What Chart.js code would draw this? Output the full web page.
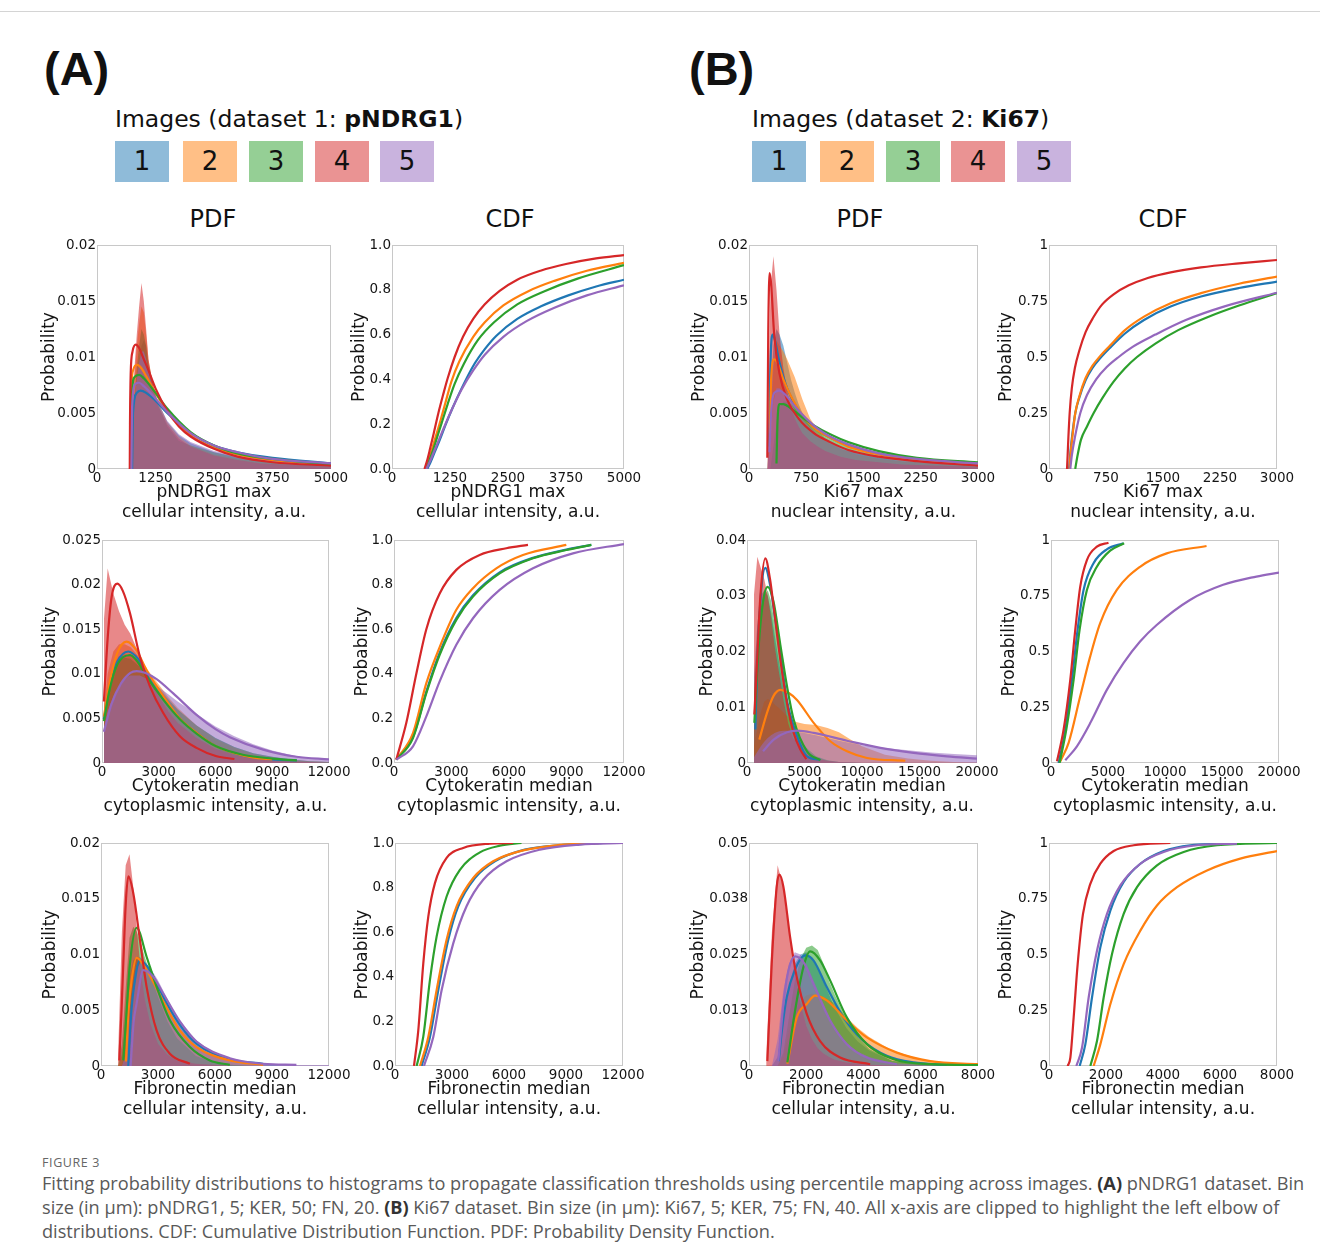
<!DOCTYPE html>
<html>
<head>
<meta charset="utf-8">
<script src="https://cdn.jsdelivr.net/npm/chart.js@4.4.1/dist/chart.umd.min.js"></script>
<style>
  body { margin: 0; background: #fff; }
  #page { position: relative; width: 1320px; height: 1258px; overflow: hidden; background: #fff;
          font-family: 'DejaVu Sans', sans-serif; color: #111; }
  .abs { position: absolute; white-space: nowrap; }
  .big { font-family: 'Liberation Sans', Arial, sans-serif; font-weight: bold; font-size: 47px; line-height: 47px; }
  .ds { font-size: 23.5px; line-height: 23.5px; }
  .sw { width: 54px; height: 41px; line-height: 41px; text-align: center; font-size: 26px; }
  .ttl { width: 200px; text-align: center; font-size: 24px; line-height: 24px; }
  .cap { font-family: 'Open Sans', sans-serif; color: #595959; font-size: 16px; line-height: 24px; }
  .cap b { color: #333; }
  #figlab { font-family: 'Open Sans', sans-serif; color: #666; font-size: 12.5px; line-height: 16px; letter-spacing: 0.6px; }
</style>
</head>
<body>
<div id="page">
  <div class="abs" style="left:0;top:11px;width:1320px;height:1px;background:#d4d4d4"></div>
  <div class="abs big" style="left:44px;top:45px">(A)</div>
  <div class="abs big" style="left:689px;top:45px">(B)</div>
  <div class="abs ds" style="left:115px;top:108px">Images (dataset 1: <b>pNDRG1</b>)</div>
  <div class="abs ds" style="left:752px;top:108px">Images (dataset 2: <b>Ki67</b>)</div>
  <div class="abs" id="figlab" style="left:42px;top:1155px">FIGURE 3</div>
  <div class="abs cap" id="cap1" style="left:42px;top:1171px">Fitting probability distributions to histograms to propagate classification thresholds using percentile mapping across images. <b>(A)</b> pNDRG1 dataset. Bin</div>
  <div class="abs cap" style="left:42px;top:1195px">size (in μm): pNDRG1, 5; KER, 50; FN, 20. <b>(B)</b> Ki67 dataset. Bin size (in μm): Ki67, 5; KER, 75; FN, 40. All x-axis are clipped to highlight the left elbow of</div>
  <div class="abs cap" style="left:42px;top:1219px">distributions. CDF: Cumulative Distribution Function. PDF: Probability Density Function.</div>
</div>
<script>
// image order: 1 blue, 2 orange, 3 green, 4 red, 5 purple
const seriesNames = ['1', '2', '3', '4', '5'];
const seriesColors = ['#1f77b4', '#ff7f0e', '#2ca02c', '#d62728', '#9467bd'];

// tick values and labels
const a1XTicks = [0, 1250, 2500, 3750, 5000];
const b1XTicks = [0, 750, 1500, 2250, 3000];
const a23XTicks = [0, 3000, 6000, 9000, 12000];
const b2XTicks = [0, 5000, 10000, 15000, 20000];
const b3XTicks = [0, 2000, 4000, 6000, 8000];
const pdf02Ticks = [0, 0.005, 0.01, 0.015, 0.02];
const pdf02Labels = ['0', '0.005', '0.01', '0.015', '0.02'];
const pdf025Ticks = [0, 0.005, 0.01, 0.015, 0.02, 0.025];
const pdf025Labels = ['0', '0.005', '0.01', '0.015', '0.02', '0.025'];
const pdf04Ticks = [0, 0.01, 0.02, 0.03, 0.04];
const pdf04Labels = ['0', '0.01', '0.02', '0.03', '0.04'];
const pdf05Ticks = [0, 0.0125, 0.025, 0.0375, 0.05];
const pdf05Labels = ['0', '0.013', '0.025', '0.038', '0.05'];
const cdfATicks = [0, 0.2, 0.4, 0.6, 0.8, 1];
const cdfALabels = ['0.0', '0.2', '0.4', '0.6', '0.8', '1.0'];
const cdfBTicks = [0, 0.25, 0.5, 0.75, 1];
const cdfBLabels = ['0', '0.25', '0.5', '0.75', '1'];

// ---- row 1: pNDRG1 max / Ki67 max
const a1HistX = [700, 760, 800, 850, 900, 950, 1000, 1050, 1100, 1200, 1300, 1500, 1750, 2000, 2500, 3000, 3500, 4000, 4500, 5000];
const a1Hist = [
  [0, 0.003, 0.006, 0.008, 0.0095, 0.011, 0.0115, 0.011, 0.0095, 0.0075, 0.006, 0.0042, 0.003, 0.0023, 0.0015, 0.0011, 0.0008, 0.0006, 0.0005, 0.0004],
  [0, 0.004, 0.008, 0.011, 0.013, 0.0145, 0.014, 0.012, 0.0098, 0.0075, 0.006, 0.0042, 0.0029, 0.0021, 0.0013, 0.0009, 0.0006, 0.0004, 0.0003, 0.0002],
  [0, 0.003, 0.006, 0.009, 0.011, 0.0125, 0.012, 0.011, 0.009, 0.0072, 0.0058, 0.0038, 0.0025, 0.0021, 0.0015, 0.001, 0.0007, 0.0005, 0.0004, 0.0003],
  [0, 0.005, 0.009, 0.012, 0.0145, 0.0166, 0.015, 0.0125, 0.0098, 0.0073, 0.0057, 0.004, 0.0027, 0.002, 0.0012, 0.0008, 0.0005, 0.0004, 0.0003, 0.0002],
  [0, 0.003, 0.006, 0.008, 0.0095, 0.0105, 0.0105, 0.0098, 0.0088, 0.0072, 0.006, 0.0043, 0.0031, 0.0024, 0.0016, 0.0012, 0.0009, 0.0007, 0.0005, 0.0004]
];
const a1Pdf = [
  [[750, 0], [770, 0.005], [850, 0.0068], [930, 0.007], [1050, 0.0068], [1250, 0.0061], [1500, 0.005], [2000, 0.0032], [2500, 0.0021], [3000, 0.0015], [3750, 0.001], [5000, 0.0005]],
  [[715, 0], [725, 0.006], [770, 0.0088], [860, 0.0093], [950, 0.009], [1050, 0.0083], [1250, 0.0068], [1500, 0.0052], [2000, 0.003], [2500, 0.0019], [3000, 0.0013], [3750, 0.0008], [5000, 0.0004]],
  [[725, 0], [740, 0.006], [800, 0.0082], [900, 0.0084], [1000, 0.0081], [1250, 0.0068], [1500, 0.0054], [2000, 0.0033], [2500, 0.0021], [3000, 0.0014], [3750, 0.0009], [5000, 0.0004]],
  [[700, 0], [705, 0.004], [720, 0.0085], [760, 0.0105], [830, 0.0111], [900, 0.0108], [1000, 0.0098], [1100, 0.0088], [1250, 0.0072], [1500, 0.0052], [1750, 0.0038], [2000, 0.0029], [2500, 0.0018], [3000, 0.0011], [3750, 0.0006], [5000, 0.0003]],
  [[735, 0], [750, 0.0055], [820, 0.0076], [900, 0.0077], [1000, 0.0074], [1250, 0.0063], [1500, 0.0051], [2000, 0.0032], [2500, 0.0021], [3000, 0.0015], [3750, 0.0009], [5000, 0.0005]]
];
const a1Cdf = [
  [[760, 0], [830, 0.03], [920, 0.075], [1030, 0.13], [1150, 0.195], [1300, 0.27], [1500, 0.36], [1750, 0.46], [2000, 0.535], [2250, 0.595], [2700, 0.67], [3200, 0.725], [3800, 0.775], [4400, 0.815], [5000, 0.845]],
  [[720, 0], [780, 0.035], [850, 0.08], [950, 0.15], [1050, 0.22], [1150, 0.295], [1280, 0.39], [1450, 0.48], [1750, 0.59], [2000, 0.655], [2400, 0.73], [2950, 0.795], [3500, 0.84], [4200, 0.885], [5000, 0.92]],
  [[730, 0], [790, 0.03], [870, 0.075], [970, 0.14], [1070, 0.205], [1200, 0.29], [1350, 0.38], [1550, 0.47], [1850, 0.575], [2200, 0.655], [2700, 0.735], [3300, 0.795], [4000, 0.85], [5000, 0.91]],
  [[700, 0], [760, 0.04], [820, 0.09], [900, 0.16], [1000, 0.25], [1100, 0.33], [1200, 0.405], [1350, 0.5], [1530, 0.59], [1750, 0.67], [2000, 0.735], [2320, 0.795], [2700, 0.845], [3200, 0.885], [3750, 0.915], [4400, 0.94], [5000, 0.955]],
  [[740, 0], [820, 0.035], [920, 0.085], [1030, 0.14], [1150, 0.2], [1300, 0.27], [1500, 0.355], [1750, 0.44], [2000, 0.51], [2400, 0.59], [2900, 0.66], [3500, 0.72], [4200, 0.775], [5000, 0.82]]
];
const b1HistX = [240, 280, 320, 360, 400, 450, 500, 550, 600, 650, 700, 800, 900, 1000, 1200, 1400, 1700, 2000, 2500, 3000];
const b1Hist = [
  [0, 0.006, 0.011, 0.0125, 0.012, 0.011, 0.0095, 0.008, 0.0068, 0.0058, 0.005, 0.0038, 0.003, 0.0025, 0.0018, 0.0014, 0.001, 0.0007, 0.0005, 0.0004],
  [0, 0.004, 0.009, 0.0115, 0.011, 0.0105, 0.0098, 0.009, 0.0082, 0.0072, 0.0062, 0.0045, 0.0035, 0.0027, 0.0018, 0.0013, 0.0009, 0.0007, 0.0005, 0.0004],
  [0, 0, 0.002, 0.004, 0.0055, 0.006, 0.006, 0.0058, 0.0055, 0.005, 0.0047, 0.0042, 0.0037, 0.0031, 0.0023, 0.0017, 0.0012, 0.0009, 0.0006, 0.0005],
  [0, 0.016, 0.019, 0.016, 0.012, 0.009, 0.007, 0.0055, 0.0045, 0.0038, 0.0032, 0.0025, 0.002, 0.0016, 0.0011, 0.0008, 0.0006, 0.0004, 0.0003, 0.0002],
  [0, 0.003, 0.006, 0.0072, 0.0072, 0.0068, 0.0063, 0.0058, 0.0053, 0.0048, 0.0044, 0.0037, 0.0031, 0.0027, 0.002, 0.0015, 0.0011, 0.0008, 0.0006, 0.0005]
];
const b1Pdf = [
  [[265, 0.002], [280, 0.009], [310, 0.012], [340, 0.0115], [400, 0.0095], [500, 0.0072], [650, 0.0052], [850, 0.0037], [1063, 0.0028], [1300, 0.0021], [1700, 0.0014], [2200, 0.0009], [3000, 0.0005]],
  [[272, 0.002], [290, 0.008], [330, 0.0098], [370, 0.0095], [450, 0.008], [550, 0.0065], [700, 0.0048], [850, 0.0037], [1063, 0.0028], [1300, 0.002], [1700, 0.0013], [2200, 0.0008], [3000, 0.0005]],
  [[360, 0.0005], [372, 0.004], [400, 0.0058], [450, 0.0058], [550, 0.0054], [700, 0.0046], [850, 0.0039], [1063, 0.0031], [1300, 0.0024], [1700, 0.0016], [2200, 0.001], [3000, 0.0006]],
  [[240, 0.001], [252, 0.012], [270, 0.0175], [290, 0.0165], [330, 0.012], [400, 0.0085], [500, 0.0062], [650, 0.0045], [850, 0.0032], [1063, 0.0024], [1300, 0.0017], [1700, 0.0011], [2200, 0.0007], [3000, 0.0003]],
  [[268, 0.0015], [290, 0.005], [330, 0.0068], [400, 0.007], [480, 0.0066], [600, 0.0056], [750, 0.0045], [900, 0.0036], [1063, 0.0029], [1300, 0.0022], [1700, 0.0014], [2200, 0.0009], [3000, 0.0005]]
];
const b1Cdf = [
  [[265, 0], [280, 0.07], [305, 0.15], [346, 0.25], [400, 0.32], [480, 0.395], [570, 0.45], [675, 0.495], [800, 0.54], [1000, 0.605], [1250, 0.665], [1600, 0.725], [2000, 0.77], [2500, 0.808], [3000, 0.837]],
  [[270, 0], [285, 0.07], [310, 0.15], [346, 0.25], [400, 0.325], [480, 0.405], [570, 0.46], [675, 0.505], [800, 0.55], [1000, 0.62], [1250, 0.68], [1600, 0.74], [2000, 0.785], [2500, 0.827], [3000, 0.859]],
  [[345, 0], [370, 0.05], [420, 0.13], [500, 0.19], [588, 0.25], [700, 0.315], [850, 0.39], [1000, 0.45], [1158, 0.5], [1400, 0.56], [1700, 0.62], [2100, 0.68], [2500, 0.73], [3000, 0.785]],
  [[237, 0], [245, 0.06], [255, 0.14], [272, 0.25], [300, 0.36], [340, 0.45], [400, 0.53], [480, 0.61], [580, 0.675], [700, 0.735], [850, 0.78], [1050, 0.82], [1300, 0.853], [1600, 0.878], [2000, 0.9], [2500, 0.918], [3000, 0.933]],
  [[280, 0], [300, 0.06], [340, 0.14], [412, 0.25], [500, 0.33], [620, 0.4], [760, 0.455], [917, 0.5], [1100, 0.545], [1400, 0.6], [1800, 0.665], [2300, 0.725], [3000, 0.787]]
];

// ---- row 2: Cytokeratin median
const a2HistX = [100, 300, 600, 900, 1200, 1500, 2000, 2500, 3000, 3500, 4000, 5000, 6000, 7000, 8000, 9000, 10000, 11000, 12000];
const a2Hist = [
  [0.005, 0.0085, 0.011, 0.012, 0.0122, 0.012, 0.011, 0.0098, 0.0085, 0.0072, 0.006, 0.0042, 0.0028, 0.0018, 0.0011, 0.0007, 0.0004, 0.0002, 0.0001],
  [0.006, 0.01, 0.0125, 0.0133, 0.0133, 0.013, 0.0118, 0.0102, 0.0088, 0.0074, 0.0062, 0.0042, 0.0027, 0.0017, 0.001, 0.0006, 0.0003, 0.0002, 0.0001],
  [0.005, 0.0082, 0.0105, 0.0115, 0.0118, 0.0117, 0.0108, 0.0096, 0.0083, 0.0071, 0.006, 0.0042, 0.0028, 0.0018, 0.0011, 0.0007, 0.0004, 0.0002, 0.0001],
  [0.016, 0.0218, 0.019, 0.017, 0.0155, 0.0145, 0.012, 0.0095, 0.0075, 0.0058, 0.0045, 0.0028, 0.0016, 0.0009, 0.0005, 0.0003, 0.0002, 0.0001, 0],
  [0.0035, 0.0058, 0.0075, 0.0087, 0.0095, 0.0098, 0.0098, 0.0093, 0.0085, 0.0077, 0.0069, 0.0055, 0.0041, 0.003, 0.0021, 0.0014, 0.0009, 0.0005, 0.0003]
];
const a2Pdf = [
  [[100, 0.0049], [400, 0.0085], [800, 0.0113], [1390, 0.0125], [1900, 0.0117], [2358, 0.0101], [3238, 0.0073], [4117, 0.005], [4997, 0.0034], [6000, 0.0019], [7500, 0.0008], [9000, 0.0004], [10300, 0.0003]],
  [[100, 0.0052], [400, 0.009], [800, 0.0123], [1302, 0.0136], [1800, 0.0127], [2358, 0.0104], [3238, 0.0075], [4117, 0.005], [4997, 0.0034], [6000, 0.0019], [7000, 0.0011], [8000, 0.0006], [9000, 0.0004]],
  [[100, 0.0047], [400, 0.0082], [800, 0.011], [1478, 0.0121], [1900, 0.0113], [2358, 0.0097], [3238, 0.0071], [4117, 0.0049], [4997, 0.0033], [6000, 0.0019], [7500, 0.0009], [9000, 0.0005], [10300, 0.0003]],
  [[100, 0.0069], [300, 0.014], [500, 0.0185], [809, 0.0201], [1100, 0.0193], [1478, 0.0168], [2006, 0.0119], [2534, 0.0086], [3238, 0.0056], [4117, 0.003], [4997, 0.0017], [6053, 0.00075], [7000, 0.00045]],
  [[100, 0.0035], [500, 0.0066], [1000, 0.0089], [1500, 0.0101], [1830, 0.0103], [2300, 0.0101], [2886, 0.0094], [3766, 0.0078], [4997, 0.0054], [6000, 0.0038], [6757, 0.0029], [8517, 0.0015], [10276, 0.0007], [12000, 0.0004]]
];
const a2Cdf = [
  [[120, 0.015], [991, 0.117], [1687, 0.32], [2383, 0.495], [3252, 0.65], [4122, 0.752], [5513, 0.855], [7252, 0.92], [8991, 0.957], [10296, 0.978]],
  [[120, 0.015], [991, 0.134], [1687, 0.358], [2383, 0.52], [3252, 0.687], [4122, 0.784], [5339, 0.873], [6730, 0.933], [8991, 0.978]],
  [[120, 0.015], [991, 0.112], [1687, 0.313], [2383, 0.485], [3252, 0.642], [4122, 0.746], [5513, 0.85], [7252, 0.918], [8991, 0.955], [10296, 0.978]],
  [[120, 0.015], [643, 0.18], [1165, 0.4], [1687, 0.6], [2383, 0.76], [3252, 0.866], [4470, 0.933], [5861, 0.963], [6991, 0.978]],
  [[120, 0.015], [991, 0.075], [1687, 0.209], [2383, 0.366], [3252, 0.53], [4122, 0.649], [5513, 0.776], [7252, 0.873], [9339, 0.94], [12000, 0.982]]
];
const b2HistX = [600, 900, 1200, 1500, 1800, 2100, 2400, 2800, 3200, 3600, 4000, 5000, 6000, 7000, 8000, 9000, 10000, 12000, 14000, 16000, 18000, 20000];
const b2Hist = [
  [0.015, 0.025, 0.03, 0.031, 0.03, 0.027, 0.023, 0.018, 0.013, 0.009, 0.006, 0.0025, 0.001, 0.0004, 0.0002, 0.0001, 0, 0, 0, 0, 0, 0],
  [0.003, 0.006, 0.009, 0.011, 0.0115, 0.0112, 0.0105, 0.0098, 0.009, 0.0082, 0.0075, 0.007, 0.0068, 0.0063, 0.0055, 0.0042, 0.003, 0.0015, 0.0008, 0.0004, 0.0002, 0.0001],
  [0.012, 0.022, 0.028, 0.03, 0.031, 0.029, 0.025, 0.02, 0.015, 0.01, 0.007, 0.003, 0.0012, 0.0005, 0.0002, 0.0001, 0, 0, 0, 0, 0, 0],
  [0.03, 0.037, 0.035, 0.033, 0.03, 0.026, 0.021, 0.016, 0.011, 0.007, 0.0045, 0.0018, 0.0008, 0.0004, 0.0002, 0.0001, 0, 0, 0, 0, 0, 0],
  [0.001, 0.002, 0.003, 0.0038, 0.0045, 0.005, 0.0054, 0.0057, 0.0058, 0.0058, 0.0057, 0.0054, 0.005, 0.0045, 0.004, 0.0036, 0.0032, 0.0027, 0.0023, 0.0019, 0.0016, 0.0014]
];
const b2Pdf = [
  [[725, 0.006], [900, 0.018], [1200, 0.03], [1594, 0.035], [2000, 0.032], [2500, 0.025], [2899, 0.0197], [3500, 0.011], [4058, 0.0066], [5217, 0.0012], [6377, 0.0006]],
  [[1072, 0.0042], [1739, 0.009], [2300, 0.012], [2899, 0.0131], [3600, 0.0126], [4348, 0.0113], [5797, 0.0072], [7246, 0.0039], [8696, 0.0021], [10435, 0.0009], [13768, 0.0004]],
  [[638, 0.0072], [1014, 0.0209], [1400, 0.029], [1797, 0.0316], [2300, 0.029], [2899, 0.0212], [3500, 0.0135], [4058, 0.0078], [5217, 0.0021], [6377, 0.0005]],
  [[638, 0.0087], [870, 0.0179], [1159, 0.0298], [1594, 0.0367], [2000, 0.033], [2319, 0.028], [2899, 0.0185], [3478, 0.0107], [4058, 0.0054], [4638, 0.0024], [5159, 0.0007]],
  [[1391, 0.0021], [2319, 0.0042], [3478, 0.0055], [4348, 0.0058], [5797, 0.0054], [8696, 0.004], [11594, 0.0027], [14493, 0.0018], [17391, 0.0012], [20000, 0.0008]]
];
const b2Cdf = [
  [[670, 0], [1254, 0.15], [1837, 0.373], [2332, 0.597], [2857, 0.776], [3732, 0.896], [4898, 0.958], [6356, 0.985]],
  [[816, 0.0075], [1545, 0.09], [2566, 0.3], [3440, 0.478], [4315, 0.627], [5773, 0.776], [7813, 0.88], [10146, 0.94], [13644, 0.973]],
  [[758, 0], [1341, 0.15], [1983, 0.373], [2507, 0.597], [3149, 0.776], [4023, 0.88], [5190, 0.952], [6414, 0.985]],
  [[525, 0.0075], [1108, 0.15], [1691, 0.373], [2128, 0.597], [2566, 0.791], [3149, 0.91], [4023, 0.97], [5044, 0.988]],
  [[1254, 0.012], [2274, 0.075], [3440, 0.179], [4898, 0.328], [6356, 0.448], [7813, 0.545], [9271, 0.619], [12187, 0.731], [15102, 0.799], [18017, 0.836], [20000, 0.854]]
];

// ---- row 3: Fibronectin median
const a3HistX = [900, 1100, 1300, 1500, 1700, 1900, 2100, 2300, 2600, 3000, 3500, 4000, 5000, 6000, 7000, 8000, 9000, 10000, 12000];
const a3Hist = [
  [0, 0, 0.002, 0.006, 0.009, 0.0098, 0.0097, 0.0093, 0.0086, 0.0074, 0.0056, 0.004, 0.002, 0.0009, 0.0004, 0.0002, 0.0001, 0, 0],
  [0, 0.001, 0.004, 0.008, 0.0095, 0.0098, 0.0094, 0.009, 0.0082, 0.007, 0.0052, 0.0037, 0.0018, 0.0008, 0.0003, 0.0001, 0, 0, 0],
  [0, 0.002, 0.007, 0.0115, 0.0125, 0.012, 0.011, 0.0098, 0.0082, 0.0062, 0.004, 0.0025, 0.0009, 0.0003, 0.0001, 0, 0, 0, 0],
  [0.001, 0.012, 0.018, 0.019, 0.016, 0.012, 0.0085, 0.006, 0.0038, 0.002, 0.001, 0.0005, 0.0002, 0.0001, 0, 0, 0, 0, 0],
  [0, 0, 0.001, 0.004, 0.007, 0.0088, 0.0093, 0.0093, 0.0088, 0.0077, 0.006, 0.0044, 0.0023, 0.0011, 0.0005, 0.0003, 0.0002, 0.0001, 0.0001]
];
const a3Pdf = [
  [[1437, 0], [1600, 0.005], [1734, 0.0071], [2050, 0.0095], [2575, 0.0086], [3276, 0.0062], [4152, 0.0037], [5028, 0.002], [6780, 0.0006], [8532, 0.0002]],
  [[1314, 0.0004], [1450, 0.005], [1612, 0.0077], [1875, 0.0097], [2400, 0.0086], [3276, 0.0058], [4152, 0.0032], [5028, 0.0017], [6780, 0.0005], [8532, 0.0001]],
  [[1174, 0.0005], [1350, 0.005], [1524, 0.0092], [1875, 0.0124], [2400, 0.0098], [2926, 0.0071], [3626, 0.0041], [4678, 0.0017], [5729, 0.0005], [6780, 0.0001]],
  [[964, 0.0005], [1080, 0.005], [1174, 0.0092], [1300, 0.0145], [1437, 0.017], [1699, 0.0155], [2050, 0.0113], [2400, 0.0071], [2926, 0.0032], [3626, 0.0011], [4678, 0.0002]],
  [[1559, 0], [1720, 0.004], [1875, 0.0056], [2225, 0.0086], [2751, 0.008], [3276, 0.0065], [4152, 0.004], [5028, 0.0022], [6780, 0.0007], [8532, 0.0002], [10284, 0.0001]]
];
const a3Cdf = [
  [[1402, 0], [1840, 0.13], [2278, 0.34], [2803, 0.566], [3329, 0.716], [4205, 0.843], [5256, 0.918], [6833, 0.97], [8672, 0.99], [10950, 1]],
  [[1314, 0], [1752, 0.13], [2190, 0.34], [2716, 0.566], [3241, 0.716], [4117, 0.843], [5168, 0.918], [6745, 0.967], [8497, 0.99], [10774, 1]],
  [[1139, 0], [1489, 0.132], [1840, 0.386], [2190, 0.58], [2716, 0.76], [3416, 0.88], [4467, 0.958], [5519, 0.988], [6657, 1]],
  [[999, 0], [1226, 0.16], [1489, 0.46], [1752, 0.67], [2102, 0.82], [2716, 0.933], [3591, 0.978], [4993, 0.997], [6219, 1]],
  [[1524, 0], [2015, 0.13], [2453, 0.34], [3066, 0.55], [3766, 0.716], [4642, 0.835], [5869, 0.918], [7621, 0.97], [9723, 0.993], [12000, 1]]
];
const b3HistX = [600, 800, 1000, 1200, 1400, 1600, 1800, 2000, 2200, 2400, 2600, 2800, 3000, 3400, 3800, 4200, 5000, 6000, 7000, 8000];
const b3Hist = [
  [0, 0, 0.002, 0.01, 0.018, 0.023, 0.025, 0.0255, 0.024, 0.022, 0.019, 0.016, 0.013, 0.0085, 0.0055, 0.0035, 0.0012, 0.0004, 0.0001, 0],
  [0, 0, 0, 0.002, 0.008, 0.012, 0.0145, 0.0158, 0.0162, 0.016, 0.0155, 0.0148, 0.014, 0.011, 0.0085, 0.0065, 0.0035, 0.0015, 0.0007, 0.0003],
  [0, 0, 0, 0.003, 0.011, 0.019, 0.024, 0.0265, 0.027, 0.026, 0.023, 0.019, 0.016, 0.0105, 0.0065, 0.0038, 0.0012, 0.0004, 0.0001, 0],
  [0.002, 0.03, 0.045, 0.04, 0.03, 0.021, 0.014, 0.009, 0.006, 0.004, 0.0028, 0.002, 0.0014, 0.0008, 0.0005, 0.0003, 0.0001, 0, 0, 0],
  [0, 0, 0.006, 0.017, 0.023, 0.0255, 0.025, 0.023, 0.02, 0.017, 0.014, 0.011, 0.0085, 0.0052, 0.0032, 0.002, 0.0007, 0.0002, 0.0001, 0]
];
const b3Pdf = [
  [[1040, 0.0011], [1150, 0.008], [1318, 0.0154], [1600, 0.0215], [1959, 0.0248], [2251, 0.0237], [2717, 0.0177], [3300, 0.0109], [4000, 0.0056], [4816, 0.0023], [5749, 0.0008], [6915, 0.0002]],
  [[1341, 0.0005], [1668, 0.0109], [2017, 0.0139], [2309, 0.0158], [2717, 0.0147], [3417, 0.0102], [4117, 0.0064], [5166, 0.003], [6332, 0.0011], [8000, 0.0004]],
  [[1341, 0.0008], [1609, 0.0124], [1901, 0.0222], [2134, 0.0257], [2484, 0.0237], [2834, 0.0192], [3417, 0.0109], [4117, 0.0049], [5050, 0.0015], [6332, 0.0004], [8000, 0.0002]],
  [[641, 0.0011], [793, 0.0229], [968, 0.0402], [1061, 0.0429], [1201, 0.0402], [1434, 0.029], [1668, 0.0199], [2017, 0.0117], [2484, 0.0056], [3184, 0.0019], [4233, 0.0004]],
  [[1026, 0.0011], [1201, 0.0139], [1376, 0.0214], [1609, 0.0246], [1901, 0.0233], [2251, 0.0184], [2834, 0.0102], [3417, 0.0049], [4117, 0.0019], [5166, 0.0004]]
];
const b3Cdf = [
  [[1076, 0], [1275, 0.097], [1509, 0.307], [1801, 0.532], [2152, 0.697], [2620, 0.825], [3205, 0.907], [4023, 0.964], [4959, 0.99], [6363, 0.997]],
  [[1567, 0], [1801, 0.097], [2152, 0.277], [2620, 0.457], [3205, 0.607], [3789, 0.72], [4491, 0.802], [5544, 0.877], [6713, 0.93], [8000, 0.964]],
  [[1450, 0], [1684, 0.112], [1918, 0.307], [2211, 0.502], [2620, 0.682], [3088, 0.802], [3789, 0.9], [4725, 0.96], [5895, 0.99], [8000, 1]],
  [[655, 0], [749, 0.037], [865, 0.217], [1006, 0.457], [1193, 0.682], [1450, 0.817], [1801, 0.907], [2269, 0.964], [2971, 0.99], [4257, 1]],
  [[959, 0], [1158, 0.082], [1392, 0.307], [1684, 0.517], [2035, 0.682], [2503, 0.81], [3205, 0.907], [4023, 0.96], [5193, 0.99], [6596, 0.997]]
];

const page = document.getElementById('page');
const ink = '#141414';
const fam = "'DejaVu Sans', sans-serif";

function rgba(hex, a) {
  const n = parseInt(hex.slice(1), 16);
  return `rgba(${n >> 16},${(n >> 8) & 255},${n & 255},${a})`;
}

function addDiv(cls, left, top, text, style) {
  const d = document.createElement('div');
  d.className = 'abs ' + cls;
  d.style.left = left + 'px';
  d.style.top = top + 'px';
  if (style) Object.assign(d.style, style);
  d.textContent = text;
  page.appendChild(d);
}

// legend swatches
[[115, 183, 249, 315, 380], [752, 820, 886, 951, 1017]].forEach(xs => {
  xs.forEach((x, i) => addDiv('sw', x, 141, seriesNames[i], { background: rgba(seriesColors[i], 0.5) }));
});
// column titles
[[213, 'PDF'], [510, 'CDF'], [860, 'PDF'], [1163, 'CDF']].forEach(([cx, t]) => addDiv('ttl', cx - 100, 207, t));

const frame = {
  id: 'frame',
  beforeDatasetsDraw(chart) {
    const a = chart.chartArea, c = chart.ctx;
    c.save();
    c.strokeStyle = '#c8c8c8';
    c.lineWidth = 1;
    c.strokeRect(Math.round(a.left) + 0.5, Math.round(a.top) + 0.5, Math.round(a.right - a.left) - 1, Math.round(a.bottom - a.top) - 1);
    c.restore();
  }
};

function panel(p) {
  const [L, T, R, B] = p.box;
  const padTop = 12, padRight = 34, hx = 53, wy = p.wy;
  const w = wy + (R - L) + padRight, h = padTop + (B - T) + hx;
  const cv = document.createElement('canvas');
  cv.width = w; cv.height = h;
  cv.style.cssText = `position:absolute;left:${L - wy}px;top:${T - padTop}px;width:${w}px;height:${h}px`;
  page.appendChild(cv);

  const datasets = [];
  if (p.histX) {
    p.hist.forEach((ys, i) => datasets.push({
      data: p.histX.map((x, k) => ({ x, y: ys[k] })),
      fill: 'origin', backgroundColor: rgba(seriesColors[i], 0.55),
      borderWidth: 0, pointRadius: 0, tension: 0, order: 20 - i
    }));
  }
  p.curves.forEach((pts, i) => datasets.push({
    data: pts.map(q => ({ x: q[0], y: q[1] })),
    borderColor: seriesColors[i], borderWidth: 2.2, pointRadius: 0, fill: false,
    cubicInterpolationMode: 'monotone', order: 10 - i
  }));

  const axis = (ticks, labels, title, fit) => ({
    type: 'linear', min: ticks[0], max: ticks[ticks.length - 1],
    afterBuildTicks: s => { s.ticks = ticks.map(v => ({ value: v })); },
    ticks: { autoSkip: false, maxRotation: 0, padding: 1, color: ink,
             font: { family: fam, size: 13.5 }, callback: (v, i) => labels[i] },
    grid: { display: false, drawTicks: false },
    border: { display: false },
    title: { display: true, text: title, color: ink, padding: 0,
             font: { family: fam, size: 17, lineHeight: 1.15 } },
    afterFit: fit
  });

  new Chart(cv, {
    type: 'line',
    data: { datasets },
    options: {
      responsive: false, animation: false, devicePixelRatio: 1,
      layout: { padding: { left: 0, top: padTop, right: padRight, bottom: 0 } },
      plugins: { legend: { display: false }, tooltip: { enabled: false } },
      scales: {
        x: axis(p.xTicks, p.xTicks.map(String), p.xTitle, s => { s.height = hx; }),
        y: axis(p.yTicks, p.yLabels, 'Probability', s => { s.width = wy; })
      }
    },
    plugins: [frame]
  });
}

const t1a = ['pNDRG1 max', 'cellular intensity, a.u.'];
const t1b = ['Ki67 max', 'nuclear intensity, a.u.'];
const t2 = ['Cytokeratin median', 'cytoplasmic intensity, a.u.'];
const t3 = ['Fibronectin median', 'cellular intensity, a.u.'];

panel({ box: [97, 245, 331, 469], wy: 57, xTicks: a1XTicks, yTicks: pdf02Ticks, yLabels: pdf02Labels, xTitle: t1a, histX: a1HistX, hist: a1Hist, curves: a1Pdf });
panel({ box: [392, 245, 624, 469], wy: 42, xTicks: a1XTicks, yTicks: cdfATicks, yLabels: cdfALabels, xTitle: t1a, curves: a1Cdf });
panel({ box: [749, 245, 978, 469], wy: 59, xTicks: b1XTicks, yTicks: pdf02Ticks, yLabels: pdf02Labels, xTitle: t1b, histX: b1HistX, hist: b1Hist, curves: b1Pdf });
panel({ box: [1049, 245, 1277, 469], wy: 52, xTicks: b1XTicks, yTicks: cdfBTicks, yLabels: cdfBLabels, xTitle: t1b, curves: b1Cdf });

panel({ box: [102, 540, 329, 763], wy: 61, xTicks: a23XTicks, yTicks: pdf025Ticks, yLabels: pdf025Labels, xTitle: t2, histX: a2HistX, hist: a2Hist, curves: a2Pdf });
panel({ box: [394, 540, 624, 763], wy: 41, xTicks: a23XTicks, yTicks: cdfATicks, yLabels: cdfALabels, xTitle: t2, curves: a2Cdf });
panel({ box: [747, 540, 977, 763], wy: 49, xTicks: b2XTicks, yTicks: pdf04Ticks, yLabels: pdf04Labels, xTitle: t2, histX: b2HistX, hist: b2Hist, curves: b2Pdf });
panel({ box: [1051, 540, 1279, 763], wy: 51, xTicks: b2XTicks, yTicks: cdfBTicks, yLabels: cdfBLabels, xTitle: t2, curves: b2Cdf });

panel({ box: [101, 843, 329, 1066], wy: 60, xTicks: a23XTicks, yTicks: pdf02Ticks, yLabels: pdf02Labels, xTitle: t3, histX: a3HistX, hist: a3Hist, curves: a3Pdf });
panel({ box: [395, 843, 623, 1066], wy: 42, xTicks: a23XTicks, yTicks: cdfATicks, yLabels: cdfALabels, xTitle: t3, curves: a3Cdf });
panel({ box: [749, 843, 978, 1066], wy: 60, xTicks: b3XTicks, yTicks: pdf05Ticks, yLabels: pdf05Labels, xTitle: t3, histX: b3HistX, hist: b3Hist, curves: b3Pdf });
panel({ box: [1049, 843, 1277, 1066], wy: 52, xTicks: b3XTicks, yTicks: cdfBTicks, yLabels: cdfBLabels, xTitle: t3, curves: b3Cdf });

// caption: size the font so the first line spans the same width as in the figure
const cap1 = document.getElementById('cap1');
const fs = 16 * 1263 / cap1.getBoundingClientRect().width;
document.querySelectorAll('.cap').forEach(e => { e.style.fontSize = fs.toFixed(2) + 'px'; });
</script>
</body>
</html>
